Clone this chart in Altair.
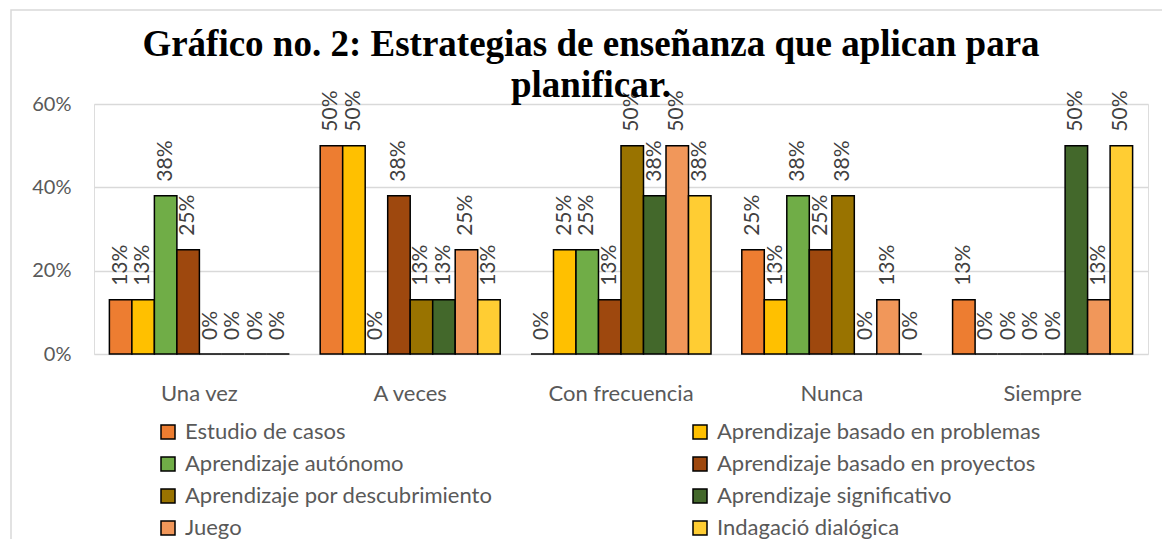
import altair as alt
import pandas as pd

categories = ["Una vez", "A veces", "Con frecuencia", "Nunca", "Siempre"]
series = [
    "Estudio de casos",
    "Aprendizaje basado en problemas",
    "Aprendizaje autónomo",
    "Aprendizaje basado en proyectos",
    "Aprendizaje por descubrimiento",
    "Aprendizaje significativo",
    "Juego",
    "Indagació dialógica",
]
colors = ["#ED7D31", "#FFC000", "#70AD47", "#9E480E", "#997300", "#43682B", "#F1975A", "#FFCD33"]

# values per series, in category order
estudio = [0.13, 0.50, 0.00, 0.25, 0.13]
problemas = [0.13, 0.50, 0.25, 0.13, 0.00]
autonomo = [0.38, 0.00, 0.25, 0.38, 0.00]
proyectos = [0.25, 0.38, 0.13, 0.25, 0.00]
descubrimiento = [0.00, 0.13, 0.50, 0.38, 0.00]
significativo = [0.00, 0.13, 0.38, 0.00, 0.50]
juego = [0.00, 0.25, 0.50, 0.13, 0.13]
indagacio = [0.00, 0.13, 0.38, 0.00, 0.50]

values = [estudio, problemas, autonomo, proyectos, descubrimiento, significativo, juego, indagacio]

rows = []
for s, vals in zip(series, values):
    for c, v in zip(categories, vals):
        rows.append({"cat": c, "serie": s, "val": v})
df = pd.DataFrame(rows)

FONT = "Lato"

base = alt.Chart(df).encode(
    x=alt.X("cat:N", sort=categories, title=None,
            scale=alt.Scale(paddingInner=0.146, paddingOuter=0.073),
            axis=alt.Axis(domain=False, ticks=False, labelAngle=0, labelFont=FONT,
                          labelFontSize=22, labelColor="#595959", labelPadding=29)),
    xOffset=alt.XOffset("serie:N", sort=series, scale=alt.Scale(paddingInner=0, paddingOuter=0)),
    y=alt.Y("val:Q", title=None,
            scale=alt.Scale(domain=[0, 0.6]),
            axis=alt.Axis(values=[0, 0.2, 0.4, 0.6], format=".0%", domain=False, ticks=False,
                          grid=True, gridColor="#D9D9D9", gridWidth=1.5,
                          labelFont=FONT, labelFontSize=20, labelColor="#595959",
                          labelPadding=23)),
)

bars = base.mark_bar(stroke="black", strokeWidth=1.5).encode(
    color=alt.Color("serie:N", sort=series,
                    scale=alt.Scale(domain=series, range=colors),
                    legend=alt.Legend(title=None, orient="none", legendX=63, legendY=317,
                                      direction="horizontal",
                                      columns=2, columnPadding=196, rowPadding=10,
                                      symbolType="square", symbolSize=196,
                                      symbolStrokeColor="black", symbolStrokeWidth=1.5,
                                      labelFont=FONT, labelFontSize=22, labelColor="#595959",
                                      labelOffset=6, padding=0, labelLimit=500))
)

labels = base.mark_text(angle=270, align="left", baseline="middle", dx=14,
                        font=FONT, fontSize=21, color="#404040").encode(
    text=alt.Text("val:Q", format=".0%")
)

frame = alt.Chart(pd.DataFrame({"a": [0]})).mark_rect(
    fill=None, stroke="#D9D9D9", strokeWidth=1.5
).encode(x=alt.value(-83), x2=alt.value(1300), y=alt.value(-94), y2=alt.value(700))

chart = alt.layer(frame, bars, labels).properties(
    width=1054, height=250,
    title=alt.TitleParams(
        text=["Gráfico no. 2: Estrategias de enseñanza que aplican para", "planificar."],
        font="Liberation Serif", fontSize=37, fontWeight="bold", color="black",
        anchor="middle", dx=-30, dy=125, baseline="alphabetic", lineHeight=41, offset=0),
    autosize=alt.AutoSizeParams(type="none"),
    padding={"left": 86, "top": 96, "right": 14, "bottom": 188},
).configure_view(stroke=None).configure(background="white")

chart.save("out.html", embed_options={"renderer": "svg", "actions": False})
